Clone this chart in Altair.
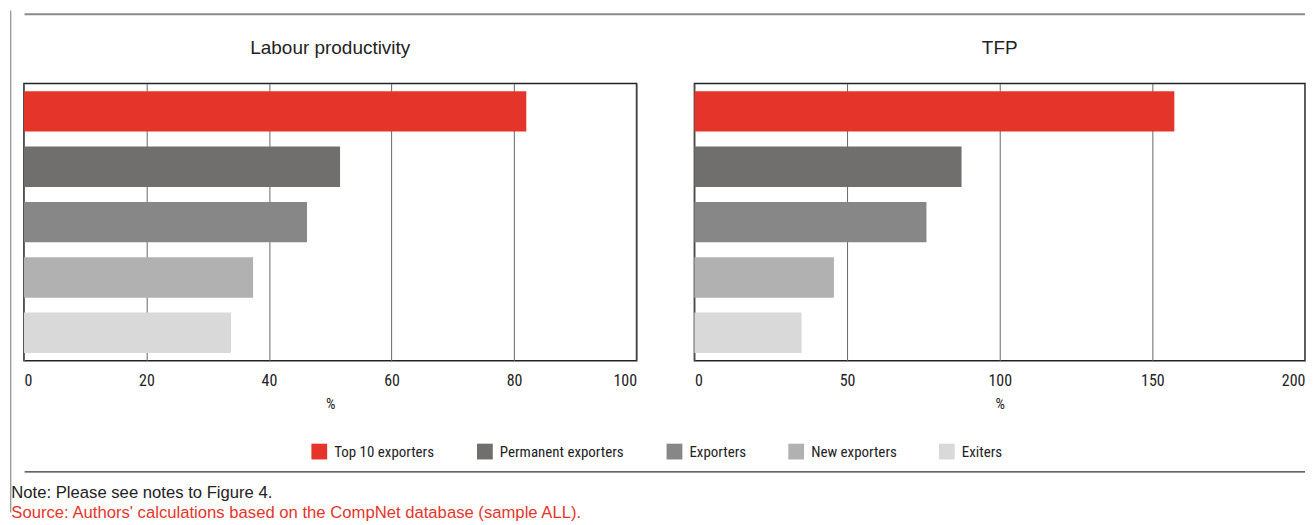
import altair as alt
import pandas as pd

categories = ["Top 10 exporters", "Permanent exporters", "Exporters", "New exporters", "Exiters"]
labour_values = [82.0, 51.6, 46.2, 37.4, 33.8]
tfp_values = [157.2, 87.5, 76.0, 45.7, 35.1]
colors = ["#E5352A", "#706F6D", "#878787", "#B1B1B1", "#D9D9D9"]
labour_ticks = [0, 20, 40, 60, 80, 100]
tfp_ticks = [0, 50, 100, 150, 200]
panel_titles = ["Labour productivity", "TFP"]
note_text = ["Note: Please see notes to Figure 4."]
source_text = ["Source: Authors' calculations based on the CompNet database (sample ALL)."]

FONT = "Liberation Sans, Arial, sans-serif"
NARROW = "Liberation Sans Narrow, Roboto Condensed, DejaVu Sans Condensed, Liberation Sans, sans-serif"

H = 278
WL = 614
WR = 612


def bar_chart(values, maxv, ticks, flush):
    df = pd.DataFrame({"category": categories, "value": values})
    axis_kw = dict(values=ticks, title="%", grid=True)
    if flush:
        axis_kw["labelFlush"] = 3
    return alt.Chart(df).mark_bar().encode(
        x=alt.X(
            "value:Q",
            scale=alt.Scale(domain=[0, maxv], nice=False),
            axis=alt.Axis(**axis_kw),
        ),
        y=alt.Y(
            "category:N",
            sort=categories,
            axis=None,
            scale=alt.Scale(paddingInner=0.27, paddingOuter=0.14),
        ),
        color=alt.Color(
            "category:N",
            sort=categories,
            scale=alt.Scale(domain=categories, range=colors),
            legend=alt.Legend(
                title=None,
                orient="none",
                direction="horizontal",
                legendX=288,
                legendY=361,
                symbolType="square",
                symbolSize=250,
                symbolStrokeWidth=0,
                symbolOpacity=1,
                labelFont=NARROW,
                labelFontSize=15,
                labelColor="#222222",
                labelOffset=7,
                columnPadding=42,
                labelLimit=300,
            ),
        ),
    )


def title_text(t, w):
    return alt.Chart(pd.DataFrame({"t": [t]})).mark_text(
        font=FONT, fontSize=19, color="#222222", baseline="middle", align="center"
    ).encode(text="t:N", x=alt.value(w / 2), y=alt.value(-35))


one = pd.DataFrame({"k": [0]})

top_rule = alt.Chart(one).mark_rule(color="#8a8a8a", strokeWidth=2).encode(
    x=alt.value(0.6), x2=alt.value(1284), y=alt.value(-69.3)
)
left_rule = alt.Chart(one).mark_rule(color="#777777", strokeWidth=1).encode(
    x=alt.value(-13.2), y=alt.value(-73), y2=alt.value(430)
)
bottom_rule = alt.Chart(one).mark_rule(color="#333333", strokeWidth=1.2).encode(
    x=alt.value(0.6), x2=alt.value(1284), y=alt.value(389.3)
)
note = alt.Chart(pd.DataFrame({"t": note_text})).mark_text(
    font=FONT, fontSize=16.7, color="#222222", align="left", baseline="middle"
).encode(text="t:N", x=alt.value(-12.7), y=alt.value(411))
source = alt.Chart(pd.DataFrame({"t": source_text})).mark_text(
    font=FONT, fontSize=16.7, color="#E5352A", align="left", baseline="middle"
).encode(text="t:N", x=alt.value(-12.7), y=alt.value(431))

left = alt.layer(
    bar_chart(labour_values, 100, labour_ticks, False),
    title_text(panel_titles[0], WL),
    top_rule,
    left_rule,
    bottom_rule,
    note,
    source,
).properties(width=WL, height=H)

right = alt.layer(
    bar_chart(tfp_values, 200, tfp_ticks, True),
    title_text(panel_titles[1], WR),
).properties(width=WR, height=H)

chart = (
    alt.hconcat(left, right, spacing=58, bounds="flush")
    .properties(padding={"left": 1, "top": 0, "right": 0, "bottom": 0})
    .configure_view(stroke="#222222", strokeWidth=1.5)
    .configure_axis(
        domain=False,
        ticks=False,
        tickSize=0,
        labelPadding=12,
        labelFont=NARROW,
        labelFontSize=16,
        labelColor="#222222",
        titleFont=NARROW,
        titleFontSize=15,
        titleFontWeight="normal",
        titleColor="#222222",
        titlePadding=8,
        gridColor="#666666",
        gridWidth=1,
        gridOpacity=1,
    )
)

chart.save("out.html", embed_options={"renderer": "svg", "actions": False})
